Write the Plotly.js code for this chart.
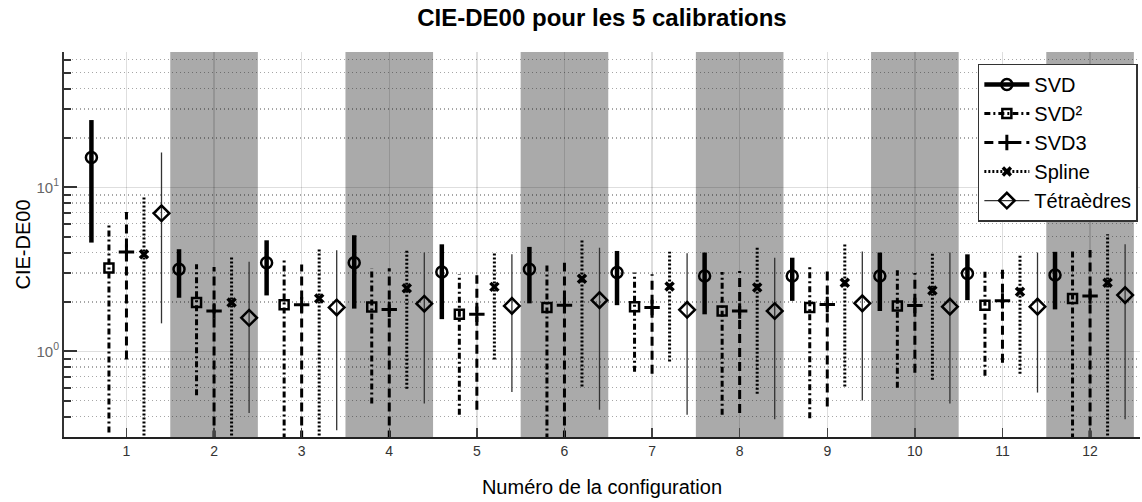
<!DOCTYPE html>
<html>
<head>
<meta charset="utf-8">
<script src="https://cdn.plot.ly/plotly-3.0.1.min.js"></script>
<style>html,body{margin:0;padding:0;background:#fff;}#chart{width:1142px;height:502px;}</style>
</head>
<body>
<div id="chart"></div>
<script>
// ---- data ----
const configs = [1, 2, 3, 4, 5, 6, 7, 8, 9, 10, 11, 12];
const seriesNames = ["SVD", "SVD²", "SVD3", "Spline", "Tétraèdres"];

const svdMid = [15.2, 3.16, 3.47, 3.47, 3.04, 3.16, 3.02, 2.88, 2.88, 2.88, 2.98, 2.92];
const svdLo  = [4.6, 2.12, 2.19, 1.82, 1.57, 1.96, 1.91, 1.68, 2.03, 1.76, 2.05, 1.80];
const svdHi  = [25.7, 4.19, 4.75, 5.10, 4.49, 4.33, 4.09, 4.00, 3.72, 4.00, 3.90, 4.04];

const svd2Mid = [3.22, 1.98, 1.92, 1.86, 1.68, 1.85, 1.87, 1.76, 1.85, 1.89, 1.91, 2.10];
const svd2Lo  = [0.32, 0.54, 0.29, 0.48, 0.41, 0.29, 0.75, 0.41, 0.39, 0.60, 0.71, 0.29];
const svd2Hi  = [6.10, 3.39, 3.73, 3.21, 2.95, 3.42, 3.02, 3.04, 3.31, 3.12, 3.13, 4.15];

const svd3Mid = [4.03, 1.76, 1.92, 1.80, 1.68, 1.91, 1.85, 1.76, 1.93, 1.90, 2.03, 2.17];
const svd3Lo  = [0.89, 0.29, 0.29, 0.29, 0.44, 0.29, 0.73, 0.42, 0.46, 0.74, 0.85, 0.29];
const svd3Hi  = [7.07, 3.27, 3.38, 3.21, 2.91, 3.47, 2.95, 3.09, 3.16, 3.00, 3.19, 4.15];

const splineMid = [3.90, 1.98, 2.10, 2.42, 2.47, 2.77, 2.48, 2.45, 2.62, 2.35, 2.31, 2.62];
const splineLo  = [0.29, 0.29, 0.29, 0.59, 0.89, 0.61, 0.865, 0.55, 0.61, 0.67, 0.73, 0.29];
const splineHi  = [8.65, 3.73, 4.19, 4.15, 4.04, 4.86, 4.04, 4.33, 4.60, 4.00, 3.85, 5.17];

const tetraMid = [6.94, 1.60, 1.85, 1.95, 1.89, 2.05, 1.79, 1.76, 1.96, 1.87, 1.87, 2.20];
const tetraLo  = [1.48, 0.42, 0.33, 0.48, 0.565, 0.44, 0.41, 0.385, 0.50, 0.48, 0.56, 0.385];
const tetraHi  = [16.3, 3.52, 4.13, 4.00, 3.90, 4.28, 3.96, 3.72, 4.06, 4.00, 4.00, 4.49];

const yTickVals = [1, 10];
const yTickText = ["10<sup>0</sup>", "10<sup>1</sup>"];
const yMinorVals = [0.3, 0.4, 0.5, 0.6, 0.7, 0.8, 0.9, 2, 3, 4, 5, 6, 7, 8, 9, 20, 30, 40, 50, 60];
const shadedConfigs = [2, 4, 6, 8, 10, 12];

// ---- styles ----
const offsets = [-0.4, -0.2, 0, 0.2, 0.4];
const styles = [
  {line: {color: "#000", width: 4.5, dash: "solid"}, marker: {symbol: "circle-open", size: 11, line: {width: 2.5, color: "#000"}}},
  {line: {color: "#000", width: 3, dash: "6px,3px,2px,3px"}, marker: {symbol: "square-open", size: 9, line: {width: 2.5, color: "#000"}}},
  {line: {color: "#000", width: 3, dash: "9px,5px"}, marker: {symbol: "cross-thin-open", size: 11, line: {width: 3, color: "#000"}}},
  {line: {color: "#000", width: 3, dash: "2px,2px"}, marker: {symbol: "x-thin-open", size: 8, line: {width: 3.5, color: "#000"}}},
  {line: {color: "#333", width: 1.3, dash: "solid"}, marker: {symbol: "diamond-open", size: 12, line: {width: 2.5, color: "#000"}}}
];
const mids = [svdMid, svd2Mid, svd3Mid, splineMid, tetraMid];
const los = [svdLo, svd2Lo, svd3Lo, splineLo, tetraLo];
const his = [svdHi, svd2Hi, svd3Hi, splineHi, tetraHi];

const traces = [];
// vertical range lines
for (let s = 0; s < 5; s++) {
  const xs = [], ys = [];
  configs.forEach((c, i) => {
    xs.push(c + offsets[s], c + offsets[s], null);
    ys.push(los[s][i], his[s][i], null);
  });
  traces.push({x: xs, y: ys, mode: "lines", line: styles[s].line, showlegend: false, hoverinfo: "skip"});
}
// markers (isolated points -> no connecting lines; legend shows line + marker)
for (let s = 0; s < 5; s++) {
  const xs = [], ys = [];
  configs.forEach((c, i) => {
    xs.push(c + offsets[s], null);
    ys.push(mids[s][i], null);
  });
  traces.push({x: xs, y: ys, name: seriesNames[s], mode: "lines+markers", connectgaps: false,
    line: styles[s].line, marker: Object.assign({color: "#000"}, styles[s].marker)});
}

const shapes = shadedConfigs.map(c => ({
  type: "rect", xref: "x", yref: "paper", x0: c - 0.5, x1: c + 0.5, y0: 0, y1: 1,
  fillcolor: "#aaaaaa", line: {width: 0}, layer: "below"
}));

const font = "Liberation Sans, Arial, Helvetica, sans-serif";
const layout = {
  width: 1142, height: 502,
  margin: {l: 64, r: 2, t: 52, b: 65},
  paper_bgcolor: "#fff", plot_bgcolor: "#fff",
  font: {family: font, color: "#000"},
  title: {text: "<b>CIE-DE00 pour les 5 calibrations</b>", font: {size: 24, family: font, color: "#000"},
          x: 0.5, xref: "paper", xanchor: "center", y: 1 - 18 / 502, yref: "container", yanchor: "middle"},
  xaxis: {
    range: [0.287, 12.57], tickvals: configs, ticktext: configs.map(String),
    ticks: "inside", ticklen: 9, tickwidth: 1.5, tickcolor: "#444",
    tickfont: {size: 14, color: "#333", family: font},
    showgrid: true, gridcolor: "rgba(0,0,0,0.13)", gridwidth: 1.5,
    showline: true, linecolor: "#222", linewidth: 2, zeroline: false,
    title: {text: "Numéro de la configuration", font: {size: 20, color: "#000", family: font}, standoff: 22}
  },
  yaxis: {
    type: "log", range: [Math.log10(0.3), 1.825],
    tickmode: "array", tickvals: yTickVals, ticktext: yTickText,
    ticks: "inside", ticklen: 13, tickwidth: 2, tickcolor: "#333",
    tickfont: {size: 15, color: "#666", family: font},
    showgrid: true, gridcolor: "rgba(0,0,0,0.13)", gridwidth: 1.5,
    minor: {tickmode: "array", tickvals: yMinorVals, ticks: "inside", ticklen: 7, tickwidth: 2, tickcolor: "#333",
            showgrid: true, gridcolor: "rgba(0,0,0,0.35)", griddash: "1px,3px", gridwidth: 1.5},
    showline: true, linecolor: "#333", linewidth: 2, zeroline: false,
    title: {text: "CIE-DE00", font: {size: 20, color: "#000", family: font}, standoff: 0}
  },
  shapes: shapes,
  showlegend: true,
  legend: {x: 0.998, xanchor: "right", y: 0.97, yanchor: "top", bgcolor: "#fff",
           bordercolor: "#333", borderwidth: 1.5, font: {size: 20, family: font, color: "#000"},
           itemwidth: 45, tracegroupgap: 0}
};

Plotly.newPlot("chart", traces, layout, {displayModeBar: false, staticPlot: true});
</script>
</body>
</html>
